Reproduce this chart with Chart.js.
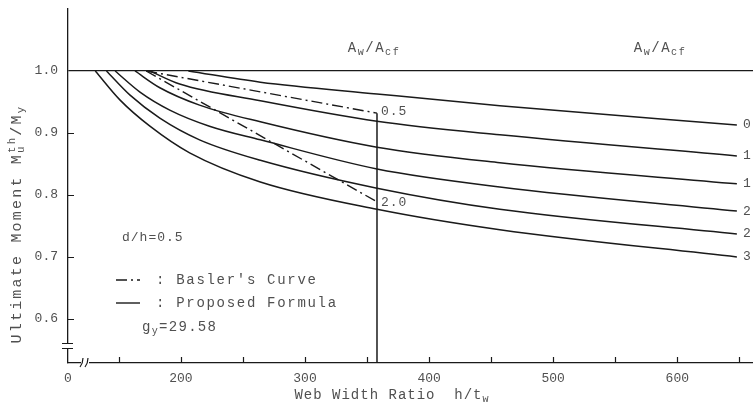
<!DOCTYPE html>
<html>
<head>
<meta charset="utf-8">
<script src="https://cdn.jsdelivr.net/npm/chart.js@4.4.1/dist/chart.umd.min.js"></script>
<style>
  html, body { margin: 0; padding: 0; background: #fff; }
  #wrapper { width: 753px; height: 410px; position: relative; }
</style>
</head>
<body>
<div id="wrapper"><canvas id="chart"></canvas></div>
<script>
// Aw/Acf values of the curves
var ratios = ['0.5', '1.0', '1.5', '2.0', '2.5', '3.0'];

// proposed formula curves (h/tw, Mu/My)
var x05 = [206, 264, 358, 457, 648];
var y05 = [1.0, 0.982, 0.963, 0.944, 0.913];
var x10 = [175, 199, 264, 358, 457, 648];
var y10 = [1.0, 0.979, 0.952, 0.919, 0.897, 0.863];
var x15 = [163, 183, 215, 264, 358, 457, 648];
var y15 = [1.0, 0.973, 0.945, 0.918, 0.877, 0.852, 0.818];
var x20 = [147, 167, 191, 223, 264, 358, 457, 648];
var y20 = [1.0, 0.966, 0.937, 0.911, 0.889, 0.842, 0.813, 0.774];
var x25 = [140, 159, 183, 215, 264, 358, 457, 648];
var y25 = [1.0, 0.961, 0.924, 0.889, 0.856, 0.811, 0.777, 0.737];
var x30 = [131, 151, 175, 207, 264, 358, 457, 648];
var y30 = [1.0, 0.953, 0.911, 0.868, 0.821, 0.777, 0.744, 0.700];

// Basler's curve (straight lines)
var baslerX = [172, 358];
var basler05 = [1.0, 0.932];
var basler20 = [1.0, 0.789];

// axis ticks
var xTicks = [150, 200, 250, 300, 350, 400, 450, 500, 550, 600, 650];
var yTicks = [0.6, 0.7, 0.8, 0.9, 1.0];

var xMin = 109, xMax = 661, yMin = 0.529, yMax = 1.1;

var ink = '#1a1a1a';
var textInk = '#505050';
var mono = '"Liberation Mono", "DejaVu Sans Mono", monospace';

function pts(xs, ys) {
  return xs.map(function (v, i) { return { x: v, y: ys[i] }; });
}

var curveX = [x05, x10, x15, x20, x25, x30];
var curveY = [y05, y10, y15, y20, y25, y30];

var datasets = curveX.map(function (xs, i) {
  return {
    label: ratios[i],
    data: pts(xs, curveY[i]),
    borderColor: ink,
    borderWidth: 1.5,
    pointRadius: 0,
    cubicInterpolationMode: 'monotone',
    fill: false
  };
});

datasets.push({
  label: 'Basler 0.5',
  data: pts(baslerX, basler05),
  borderColor: ink, borderWidth: 1.4, pointRadius: 0, tension: 0,
  borderDash: [11, 4, 2, 4]
});
datasets.push({
  label: 'Basler 2.0',
  data: pts(baslerX, basler20),
  borderColor: ink, borderWidth: 1.4, pointRadius: 0, tension: 0,
  borderDash: [11, 4, 2, 4]
});
// vertical limit line at the end of Basler's curves
datasets.push({
  label: 'limit',
  data: [{ x: baslerX[1], y: 0.5 }, { x: baslerX[1], y: basler05[1] }],
  borderColor: ink, borderWidth: 1.5, pointRadius: 0
});

// draw text with sub / superscripts ('stack' = sup over sub)
function rich(ctx, parts, x, y, size, align) {
  var small = size * 0.72;
  function width(p) {
    if (p[1] === 'stack') {
      ctx.font = small + 'px ' + mono;
      return Math.max(ctx.measureText(p[0]).width, ctx.measureText(p[2]).width);
    }
    ctx.font = (p[1] ? small : size) + 'px ' + mono;
    return ctx.measureText(p[0]).width;
  }
  var w = 0;
  parts.forEach(function (p) { w += width(p); });
  var cx = align === 'center' ? x - w / 2 : x;
  ctx.textAlign = 'left';
  parts.forEach(function (p) {
    var pw = width(p);
    if (p[1] === 'stack') {
      ctx.font = small + 'px ' + mono;
      ctx.fillText(p[0], cx, y - size * 0.35);
      ctx.fillText(p[2], cx, y + size * 0.3);
    } else {
      ctx.font = (p[1] ? small : size) + 'px ' + mono;
      var dy = p[1] === 'sub' ? size * 0.3 : (p[1] === 'sup' ? -size * 0.35 : 0);
      ctx.fillText(p[0], cx, y + dy);
    }
    cx += pw;
  });
}

var extras = {
  id: 'extras',
  afterDraw: function (chart) {
    var ctx = chart.ctx;
    var xs = chart.scales.x, ys = chart.scales.y;
    var area = chart.chartArea;
    ctx.save();

    // inward tick marks
    ctx.strokeStyle = ink;
    ctx.lineWidth = 1.2;
    ctx.beginPath();
    xTicks.forEach(function (v) {
      var px = Math.round(xs.getPixelForValue(v)) + 0.5;
      ctx.moveTo(px, area.bottom);
      ctx.lineTo(px, area.bottom - 6);
    });
    yTicks.forEach(function (v) {
      if (v === 1.0) return;
      var py = Math.round(ys.getPixelForValue(v)) + 0.5;
      ctx.moveTo(area.left, py);
      ctx.lineTo(area.left + 6, py);
    });
    ctx.stroke();

    // axis breaks
    ctx.fillStyle = '#fff';
    ctx.fillRect(area.left + 13, area.bottom - 3, 8, 6);
    ctx.fillRect(area.left - 3, area.bottom - 19, 6, 5);
    ctx.beginPath();
    ctx.moveTo(area.left + 12, area.bottom + 4);
    ctx.quadraticCurveTo(area.left + 15, area.bottom, area.left + 15, area.bottom - 5);
    ctx.moveTo(area.left + 17, area.bottom + 4);
    ctx.quadraticCurveTo(area.left + 20, area.bottom, area.left + 20, area.bottom - 5);
    ctx.moveTo(area.left - 6, area.bottom - 19.5);
    ctx.lineTo(area.left + 5, area.bottom - 19.5);
    ctx.moveTo(area.left - 6, area.bottom - 14.5);
    ctx.lineTo(area.left + 5, area.bottom - 14.5);
    ctx.stroke();

    ctx.fillStyle = textInk;
    ctx.textBaseline = 'middle';
    ctx.letterSpacing = '1px';

    // curve labels at the right edge
    curveY.forEach(function (ys_, i) {
      var py = ys.getPixelForValue(ys_[ys_.length - 1]);
      rich(ctx, [[ratios[i]]], 743, py, 13, 'left');
    });
    // Basler end labels
    var bx = xs.getPixelForValue(baslerX[1]);
    rich(ctx, [['0.5']], bx + 4, ys.getPixelForValue(basler05[1]) - 2, 13, 'left');
    rich(ctx, [['2.0']], bx + 4, ys.getPixelForValue(basler20[1]) + 1, 13, 'left');

    // Aw/Acf headings
    ctx.letterSpacing = '1.5px';
    rich(ctx, [['A'], ['w', 'sub'], ['/A'], ['cf', 'sub']], 374, 48, 14, 'center');
    rich(ctx, [['A'], ['w', 'sub'], ['/A'], ['cf', 'sub']], 660, 48, 14, 'center');

    // annotations
    ctx.letterSpacing = '1px';
    rich(ctx, [['d/h=0.5']], 122, 238, 13, 'left');
    ctx.letterSpacing = '1.7px';
    rich(ctx, [[": Basler's Curve"]], 156, 280, 14, 'left');
    rich(ctx, [[': Proposed Formula']], 156, 303, 14, 'left');
    ctx.letterSpacing = '1.3px';
    rich(ctx, [['g'], ['y', 'sub'], ['=29.58']], 142, 327, 14, 'left');

    // legend samples
    ctx.strokeStyle = ink;
    ctx.lineWidth = 1.4;
    ctx.setLineDash([11, 4, 2, 4]);
    ctx.beginPath();
    ctx.moveTo(116, 280); ctx.lineTo(140, 280);
    ctx.stroke();
    ctx.setLineDash([]);
    ctx.beginPath();
    ctx.moveTo(116, 303); ctx.lineTo(140, 303);
    ctx.stroke();

    // axis titles
    ctx.letterSpacing = '1px';
    rich(ctx, [['Web Width Ratio  h/t'], ['w', 'sub']], 392, 395, 14, 'center');
    ctx.save();
    ctx.translate(17, 224);
    ctx.rotate(-Math.PI / 2);
    ctx.letterSpacing = '2.2px';
    rich(ctx, [['Ultimate Moment M'], ['th', 'stack', 'u'], ['/M'], ['y', 'sub']], 0, 0, 15, 'center');
    ctx.restore();
    ctx.restore();
  }
};

new Chart('chart', {
  type: 'line',
  data: { datasets: datasets },
  options: {
    responsive: true,
    maintainAspectRatio: false,
    animation: false,
    layout: { padding: { top: 9, right: 0, left: 0, bottom: 0 } },
    plugins: { legend: { display: false }, tooltip: { enabled: false } },
    scales: {
      x: {
        type: 'linear',
        min: xMin,
        max: xMax,
        afterBuildTicks: function (s) {
          s.ticks = [xMin].concat(xTicks).map(function (v) { return { value: v }; });
        },
        afterFit: function (s) {
          s.height = 47;
          s.paddingLeft = 0;
          s.paddingRight = 0;
        },
        ticks: {
          autoSkip: false,
          maxRotation: 0,
          padding: 8,
          color: textInk,
          font: { family: mono, size: 13 },
          callback: function (v) {
            if (v === xMin) return '0';
            return v % 100 === 0 ? String(v) : '';
          }
        },
        grid: { color: 'rgba(0,0,0,0)', drawTicks: false },
        border: { display: true, color: ink, width: 1.3 }
      },
      y: {
        type: 'linear',
        min: yMin,
        max: yMax,
        afterBuildTicks: function (s) {
          s.ticks = yTicks.map(function (v) { return { value: v }; });
        },
        afterFit: function (s) {
          s.width = 68;
          s.paddingTop = 0;
          s.paddingBottom = 0;
        },
        ticks: {
          padding: 10,
          color: textInk,
          font: { family: mono, size: 13 },
          callback: function (v) { return v.toFixed(1); }
        },
        grid: {
          drawTicks: false,
          lineWidth: 1.3,
          color: function (c) { return c.tick && c.tick.value === 1.0 ? ink : 'rgba(0,0,0,0)'; }
        },
        border: { display: true, color: ink, width: 1.3 }
      }
    }
  },
  plugins: [extras]
});
</script>
</body>
</html>
